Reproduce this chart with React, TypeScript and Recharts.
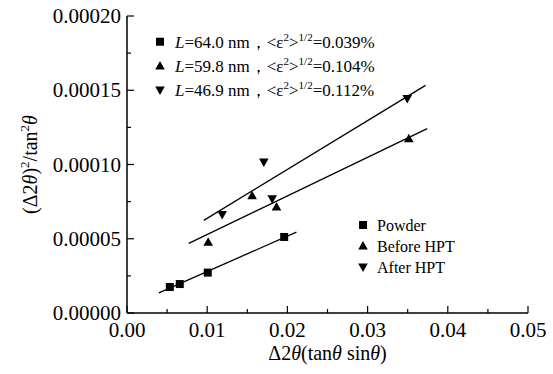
import React from 'react';
import { ScatterChart, Scatter, XAxis, YAxis, ReferenceLine } from 'recharts';

// measured points
const powderX = [0.00534, 0.00658, 0.01007, 0.0196];
const powderY = [1.75e-5, 1.95e-5, 2.72e-5, 5.12e-5];
const beforeX = [0.01012, 0.0156, 0.01864, 0.03514];
const beforeY = [4.76e-5, 7.9e-5, 7.14e-5, 1.174e-4];
const afterX = [0.01187, 0.0181, 0.01706, 0.03494];
const afterY = [6.63e-5, 7.7e-5, 1.017e-4, 1.444e-4];

// fitted line end points [x0, y0, x1, y1]
const powderFit = [0.00397, 1.35e-5, 0.02113, 5.45e-5];
const beforeFit = [0.0077, 4.69e-5, 0.03743, 1.242e-4];
const afterFit = [0.00958, 6.24e-5, 0.03722, 1.533e-4];

const xTicks = [0, 0.005, 0.01, 0.015, 0.02, 0.025, 0.03, 0.035, 0.04, 0.045, 0.05];
const xTickLabels = ['0.00', '0.01', '0.02', '0.03', '0.04', '0.05'];
const yTicks = [0, 2.5e-5, 5e-5, 7.5e-5, 1e-4, 1.25e-4, 1.5e-4, 1.75e-4, 2e-4];
const yTickLabels = ['0.00000', '0.00005', '0.00010', '0.00015', '0.00020'];

const seriesNames = ['Powder', 'Before HPT', 'After HPT'];
const grainSizes = ['64.0', '59.8', '46.9'];
const strains = ['0.039%', '0.104%', '0.112%'];

const FONT = 'Liberation Serif';

const toPts = (xs: number[], ys: number[]) => xs.map((x, i) => ({ x, y: ys[i] }));

const Marker = ({ kind, cx, cy }: { kind: number; cx: number; cy: number }) => {
  if (kind === 0) return <rect x={cx - 4} y={cy - 4} width={8} height={8} fill="#000" />;
  if (kind === 1)
    return <polygon points={`${cx},${cy - 5} ${cx - 4.8},${cy + 3.5} ${cx + 4.8},${cy + 3.5}`} fill="#000" />;
  return <polygon points={`${cx},${cy + 5} ${cx - 4.8},${cy - 3.5} ${cx + 4.8},${cy - 3.5}`} fill="#000" />;
};

const BottomTick = (props: any) => {
  const { x, y, index } = props;
  const major = index % 2 === 0;
  return (
    <g>
      <line x1={x} y1={y} x2={x} y2={y - (major ? 7 : 4)} stroke="#000" strokeWidth={1.2} />
      {major && (
        <text x={x} y={y + 24} textAnchor="middle" fontSize={21} fontFamily={FONT} fill="#000" stroke="none">
          {xTickLabels[index / 2]}
        </text>
      )}
    </g>
  );
};

const TopTick = (props: any) => {
  const { x, y, index } = props;
  const major = index % 2 === 0;
  return <line x1={x} y1={y} x2={x} y2={y + (major ? 7 : 4)} stroke="#000" strokeWidth={1.2} />;
};

const LeftTick = (props: any) => {
  const { x, y, index } = props;
  const major = index % 2 === 0;
  return (
    <g>
      <line x1={x} y1={y} x2={x + (major ? 7 : 4)} y2={y} stroke="#000" strokeWidth={1.2} />
      {major && (
        <text x={x - 6} y={y + 7} textAnchor="end" fontSize={21} fontFamily={FONT} fill="#000" stroke="none">
          {yTickLabels[index / 2]}
        </text>
      )}
    </g>
  );
};

const RightTick = (props: any) => {
  const { x, y, index } = props;
  const major = index % 2 === 0;
  return <line x1={x} y1={y} x2={x - (major ? 7 : 4)} y2={y} stroke="#000" strokeWidth={1.2} />;
};

const XTitle = (props: any) => {
  const vb = props.viewBox;
  return (
    <text x={vb.x + vb.width / 2} y={vb.y + 47} textAnchor="middle" fontSize={20} fontFamily={FONT} fill="#000" stroke="none">
      <tspan>Δ2</tspan>
      <tspan fontStyle="italic">θ</tspan>
      <tspan>(tan</tspan>
      <tspan fontStyle="italic">θ</tspan>
      <tspan> sin</tspan>
      <tspan fontStyle="italic">θ</tspan>
      <tspan>)</tspan>
    </text>
  );
};

// y title plus both legends, drawn from the y axis label hook
const Annotations = (props: any) => {
  const vb = props.viewBox;
  const midY = vb.y + vb.height / 2;
  return (
    <g fontFamily={FONT} fill="#000" stroke="none">
      <text transform={`translate(37,${midY}) rotate(-90)`} textAnchor="middle" fontSize={20} fontFamily={FONT}>
        <tspan>(Δ2</tspan>
        <tspan fontStyle="italic">θ</tspan>
        <tspan>)</tspan>
        <tspan dy={-8} fontSize={13}>2</tspan>
        <tspan dy={8}>/tan</tspan>
        <tspan dy={-8} fontSize={13}>2</tspan>
        <tspan dy={8} fontStyle="italic">θ</tspan>
      </text>
      {grainSizes.map((g, i) => (
        <g key={g}>
          <Marker kind={i} cx={160} cy={41.7 + i * 24.2} />
          <text x={175} y={47.5 + i * 24.2} fontSize={17} fontFamily={FONT}>
            <tspan fontStyle="italic">L</tspan>
            <tspan>{`=${g} nm，<ε`}</tspan>
            <tspan dy={-7} fontSize={11}>2</tspan>
            <tspan dy={7}>{'>'}</tspan>
            <tspan dy={-7} fontSize={11}>1/2</tspan>
            <tspan dy={7}>{`=${strains[i]}`}</tspan>
          </text>
        </g>
      ))}
      {seriesNames.map((n, i) => (
        <g key={n}>
          <Marker kind={i} cx={363} cy={225 + i * 21} />
          <text x={377} y={230.5 + i * 21} fontSize={16} fontFamily={FONT}>
            {n}
          </text>
        </g>
      ))}
    </g>
  );
};

const fitSeg = (f: number[]) => [
  { x: f[0], y: f[1] },
  { x: f[2], y: f[3] },
];

export default function App() {
  return (
    <div style={{ position: 'absolute', left: 0, top: 0, background: '#fff', fontFamily: FONT }}>
      <ScatterChart width={553} height={374} margin={{ top: 16, right: 25, bottom: 0, left: 0 }}>
        <XAxis
          dataKey="x"
          type="number"
          domain={[0, 0.05]}
          ticks={xTicks}
          interval={0}
          height={61}
          stroke="#000"
          strokeWidth={1.5}
          tickLine={false}
          tickSize={0}
          tickMargin={0}
          tick={<BottomTick />}
          label={<XTitle />}
        />
        <XAxis
          xAxisId="top"
          orientation="top"
          dataKey="x"
          type="number"
          domain={[0, 0.05]}
          ticks={xTicks}
          interval={0}
          height={0}
          stroke="#000"
          strokeWidth={1.5}
          tickLine={false}
          tickSize={0}
          tickMargin={0}
          tick={<TopTick />}
        />
        <YAxis
          dataKey="y"
          type="number"
          domain={[0, 0.0002]}
          ticks={yTicks}
          interval={0}
          width={127}
          stroke="#000"
          strokeWidth={1.5}
          tickLine={false}
          tickSize={0}
          tickMargin={0}
          tick={<LeftTick />}
          label={<Annotations />}
        />
        <YAxis
          yAxisId="right"
          orientation="right"
          dataKey="y"
          type="number"
          domain={[0, 0.0002]}
          ticks={yTicks}
          interval={0}
          width={0}
          stroke="#000"
          strokeWidth={1.5}
          tickLine={false}
          tickSize={0}
          tickMargin={0}
          tick={<RightTick />}
        />
        <ReferenceLine segment={fitSeg(powderFit)} stroke="#000" strokeWidth={1.3} />
        <ReferenceLine segment={fitSeg(beforeFit)} stroke="#000" strokeWidth={1.3} />
        <ReferenceLine segment={fitSeg(afterFit)} stroke="#000" strokeWidth={1.3} />
        <Scatter data={toPts(powderX, powderY)} isAnimationActive={false} shape={(p: any) => <Marker kind={0} cx={p.cx} cy={p.cy} />} />
        <Scatter data={toPts(beforeX, beforeY)} isAnimationActive={false} shape={(p: any) => <Marker kind={1} cx={p.cx} cy={p.cy} />} />
        <Scatter data={toPts(afterX, afterY)} isAnimationActive={false} shape={(p: any) => <Marker kind={2} cx={p.cx} cy={p.cy} />} />
        <Scatter xAxisId="top" yAxisId="right" data={[]} isAnimationActive={false} />
      </ScatterChart>
    </div>
  );
}
